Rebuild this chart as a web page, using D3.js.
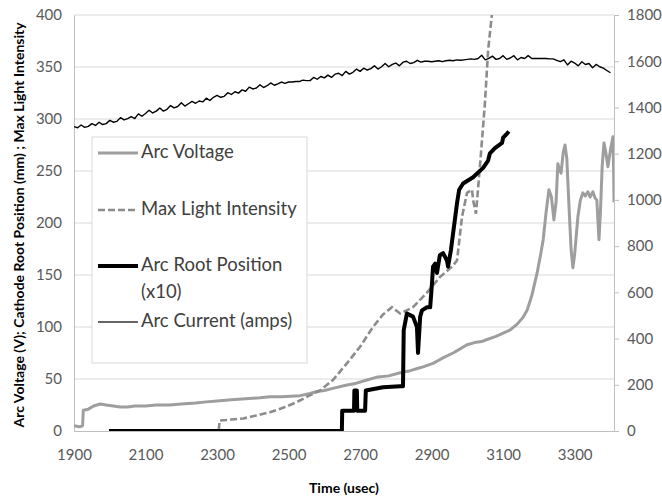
<!DOCTYPE html>
<html>
<head>
<meta charset="utf-8">
<script src="https://cdn.jsdelivr.net/npm/d3@7/dist/d3.min.js"></script>
<style>
  html, body { margin: 0; padding: 0; background: #fff; }
  svg { display: block; }
  text { font-family: Lato, "Open Sans", "DejaVu Sans", sans-serif; }
</style>
</head>
<body>
<svg id="chart" width="662" height="500"></svg>
<script>
// ---------- DATA ----------
const timeTicks = [1900, 2100, 2300, 2500, 2700, 2900, 3100, 3300];
const leftTicks = [0, 50, 100, 150, 200, 250, 300, 350, 400];
const rightTicks = [0, 200, 400, 600, 800, 1000, 1200, 1400, 1600, 1800];

const seriesNames = ["Arc Voltage", "Max Light Intensity", "Arc Root Position (x10)", "Arc Current (amps)"];

// Arc Voltage (V) – left axis
const arcVoltage = [
  [1900,5],[1915,4],[1924,5],[1926,20],[1940,21],[1955,24],[1973,26],[1990,25],[2010,24],[2029,23],
  [2050,23],[2070,24],[2100,24],[2130,25],[2168,25],[2200,26],[2240,27],[2270,28],[2308,29],[2340,30],
  [2380,31],[2420,32],[2448,33],[2480,33],[2532,34],[2560,36],[2580,38],[2600,39],[2624,41],[2660,44],
  [2690,46],[2719,49],[2750,52],[2780,53],[2812,56],[2840,58],[2870,61],[2904,65],[2930,70],[2960,75],
  [2980,79],[2999,83],[3020,85],[3040,86],[3055,88],[3080,91],[3100,94],[3119,97],[3140,103],[3155,109],
  [3167,116],[3180,130],[3195,152],[3205,170],[3212,184],[3220,210],[3228,232],[3235,225],[3242,203],[3248,220],
  [3253,257],[3257,252],[3262,248],[3268,268],[3273,275],[3278,262],[3285,210],[3290,175],[3295,157],[3300,170],
  [3309,206],[3316,222],[3323,229],[3330,226],[3337,230],[3343,225],[3351,230],[3357,224],[3362,222],[3368,184],
  [3372,210],[3377,255],[3382,277],[3387,268],[3393,254],[3400,270],[3407,283],[3409,250],[3410,220]
];

// Max Light Intensity – left axis (runs off the top)
const maxLight = [
  [2305,1],[2307,10],[2340,11],[2373,12],[2410,15],[2448,18],[2490,23],[2524,28],[2552,33],[2588,39],
  [2624,49],[2663,65],[2700,81],[2736,100],[2764,112],[2789,119],[2812,113],[2848,119],[2887,133],[2923,148],
  [2957,158],[2971,164],[2985,206],[2999,229],[3013,232],[3016,222],[3024,209],[3035,254],[3049,315],[3058,366],
  [3069,402],[3073,420]
];

// Arc Root Position (x10) – left axis
const arcRoot = [
  [1998,0],[2649,0],[2650,19.5],[2683,19.5],[2684,39],[2691,39],[2692,19.5],[2714,19.5],[2716,39],[2764,42],
  [2812,43],[2820,43],[2822,97],[2831,113],[2848,110],[2859,100],[2862,75],[2868,110],[2873,116],[2887,119],
  [2896,119],[2901,142],[2904,158],[2910,161],[2915,152],[2923,169],[2932,171],[2943,164],[2946,158],[2954,174],
  [2960,190],[2971,219],[2977,232],[2988,238],[3016,244],[3044,253],[3058,260],[3063,267],[3077,272],[3097,277],
  [3100,282],[3111,286],[3116,288]
];

// Arc Current (amps) – right axis
const arcCurrent = [
  [1900,1317],[1910,1312],[1920,1324],[1930,1314],[1940,1318],[1950,1330],[1960,1322],[1970,1336],[1980,1326],[1990,1330],
  [2000,1344],[2010,1336],[2020,1340],[2030,1356],[2040,1346],[2050,1352],[2060,1360],[2070,1352],[2080,1372],[2090,1362],
  [2100,1374],[2110,1388],[2120,1376],[2130,1384],[2140,1398],[2150,1384],[2160,1392],[2170,1408],[2180,1398],[2190,1404],
  [2200,1420],[2210,1406],[2220,1416],[2230,1426],[2240,1418],[2250,1428],[2260,1424],[2270,1440],[2280,1430],[2290,1444],
  [2300,1452],[2310,1444],[2320,1448],[2330,1464],[2340,1456],[2350,1468],[2360,1462],[2370,1476],[2380,1470],[2390,1488],
  [2400,1480],[2410,1484],[2420,1498],[2430,1486],[2440,1494],[2450,1506],[2460,1496],[2470,1502],[2480,1510],[2490,1504],
  [2500,1510],[2510,1510],[2520,1512],[2530,1512],[2540,1518],[2550,1516],[2560,1516],[2570,1530],[2580,1522],[2590,1534],
  [2600,1528],[2610,1540],[2620,1530],[2630,1544],[2640,1548],[2650,1538],[2660,1556],[2670,1544],[2680,1552],[2690,1566],
  [2700,1556],[2710,1570],[2720,1562],[2730,1568],[2740,1580],[2750,1566],[2760,1576],[2770,1590],[2780,1576],[2790,1586],
  [2800,1592],[2810,1580],[2820,1596],[2830,1600],[2840,1590],[2850,1594],[2860,1604],[2870,1596],[2880,1600],[2890,1600],
  [2900,1598],[2910,1600],[2920,1602],[2930,1598],[2940,1602],[2950,1604],[2960,1602],[2970,1606],[2980,1604],[2990,1606],
  [3000,1608],[3010,1610],[3020,1608],[3030,1612],[3040,1626],[3050,1606],[3060,1612],[3070,1622],[3080,1608],[3090,1612],
  [3100,1624],[3110,1608],[3120,1614],[3130,1624],[3140,1606],[3150,1616],[3160,1612],[3170,1624],[3180,1612],[3190,1612],
  [3200,1612],[3210,1612],[3220,1612],[3230,1610],[3240,1610],[3250,1604],[3260,1598],[3270,1606],[3280,1584],[3290,1600],
  [3300,1592],[3310,1580],[3320,1598],[3330,1586],[3340,1590],[3350,1572],[3360,1586],[3370,1576],[3380,1570],[3390,1560],
  [3400,1550]
];

// ---------- CHART ----------
const svg = d3.select("#chart");
const plot = { left: 74, right: 614, top: 15, bottom: 431 };

const x = d3.scaleLinear().domain([1900, 3410]).range([plot.left, plot.right]);
const yL = d3.scaleLinear().domain([0, 400]).range([plot.bottom, plot.top]);
const yR = d3.scaleLinear().domain([0, 1800]).range([plot.bottom, plot.top]);

svg.append("defs").append("clipPath").attr("id", "clip")
  .append("rect").attr("x", plot.left).attr("y", plot.top)
  .attr("width", plot.right - plot.left).attr("height", plot.bottom - plot.top);

// gridlines
svg.append("g").selectAll("line").data(leftTicks.filter(d => d > 0)).join("line")
  .attr("x1", plot.left).attr("x2", plot.right)
  .attr("y1", d => yL(d)).attr("y2", d => yL(d))
  .attr("stroke", "#d9d9d9").attr("stroke-width", 1);

const tickColor = "#595959";
const tickFont = 15;

// left axis
const gL = svg.append("g").attr("transform", `translate(${plot.left},0)`)
  .call(d3.axisLeft(yL).tickValues(leftTicks).tickSize(0).tickPadding(12));
gL.select(".domain").attr("stroke", "#bfbfbf");
gL.selectAll("text").attr("fill", tickColor).style("font-size", tickFont + "px");

// right axis
const gR = svg.append("g").attr("transform", `translate(${plot.right},0)`)
  .call(d3.axisRight(yR).tickValues(rightTicks).tickSize(5).tickPadding(8).tickFormat(d3.format("d")));
gR.select(".domain").attr("stroke", "#bfbfbf");
gR.selectAll("line").attr("stroke", "#bfbfbf");
gR.selectAll("text").attr("fill", tickColor).style("font-size", tickFont + "px");

// bottom axis
const gB = svg.append("g").attr("transform", `translate(0,${plot.bottom})`)
  .call(d3.axisBottom(x).tickValues(timeTicks).tickSize(0).tickPadding(18).tickFormat(d3.format("d")));
gB.select(".domain").attr("stroke", "#bfbfbf");
gB.selectAll("text").attr("fill", tickColor).style("font-size", tickFont + "px");

// titles
svg.append("text")
  .attr("transform", `translate(20,${(plot.top + plot.bottom) / 2 + 2}) rotate(-90)`)
  .attr("text-anchor", "middle").attr("dominant-baseline", "middle")
  .style("font-size", "14px").style("font-weight", "bold").attr("fill", "#000")
  .text("Arc Voltage (V); Cathode Root Position (mm) ; Max Light Intensity");

svg.append("text")
  .attr("x", (plot.left + plot.right) / 2).attr("y", 489)
  .attr("text-anchor", "middle").attr("dominant-baseline", "middle")
  .style("font-size", "14px").style("font-weight", "bold").attr("fill", "#000")
  .text("Time (usec)");

// series
const lineL = d3.line().x(d => x(d[0])).y(d => yL(d[1]));
const lineR = d3.line().x(d => x(d[0])).y(d => yR(d[1]));
const g = svg.append("g").attr("clip-path", "url(#clip)");

g.append("path").datum(arcCurrent).attr("d", lineR)
  .attr("fill", "none").attr("stroke", "#000").attr("stroke-width", 1.4).attr("stroke-linejoin", "round");
g.append("path").datum(arcVoltage).attr("d", lineL)
  .attr("fill", "none").attr("stroke", "#9e9e9e").attr("stroke-width", 3).attr("stroke-linejoin", "round");
g.append("path").datum(maxLight).attr("d", lineL)
  .attr("fill", "none").attr("stroke", "#8c8c8c").attr("stroke-width", 2.6).attr("stroke-dasharray", "7,3");
g.append("path").datum(arcRoot).attr("d", lineL)
  .attr("fill", "none").attr("stroke", "#000").attr("stroke-width", 4).attr("stroke-linejoin", "round");

// legend
const lg = svg.append("g");
lg.append("rect").attr("x", 92).attr("y", 137).attr("width", 215).attr("height", 226)
  .attr("fill", "#fff").attr("stroke", "#d9d9d9").attr("stroke-width", 1);
const legendItems = [
  { label: ["Arc Voltage"], y: 153, stroke: "#9e9e9e", w: 3, dash: null },
  { label: ["Max Light Intensity"], y: 210, stroke: "#8c8c8c", w: 2.6, dash: "7,3" },
  { label: ["Arc Root Position", "(x10)"], y: 266, stroke: "#000", w: 4, dash: null },
  { label: ["Arc Current (amps)"], y: 322, stroke: "#333", w: 1.6, dash: null }
];
legendItems.forEach(it => {
  lg.append("line").attr("x1", 98).attr("x2", 138).attr("y1", it.y).attr("y2", it.y)
    .attr("stroke", it.stroke).attr("stroke-width", it.w).attr("stroke-dasharray", it.dash);
  it.label.forEach((t, i) => {
    lg.append("text").attr("x", 141).attr("y", it.y + i * 27)
      .attr("dominant-baseline", "middle").style("font-size", "18.5px").attr("fill", "#404040").text(t);
  });
});
</script>
</body>
</html>
